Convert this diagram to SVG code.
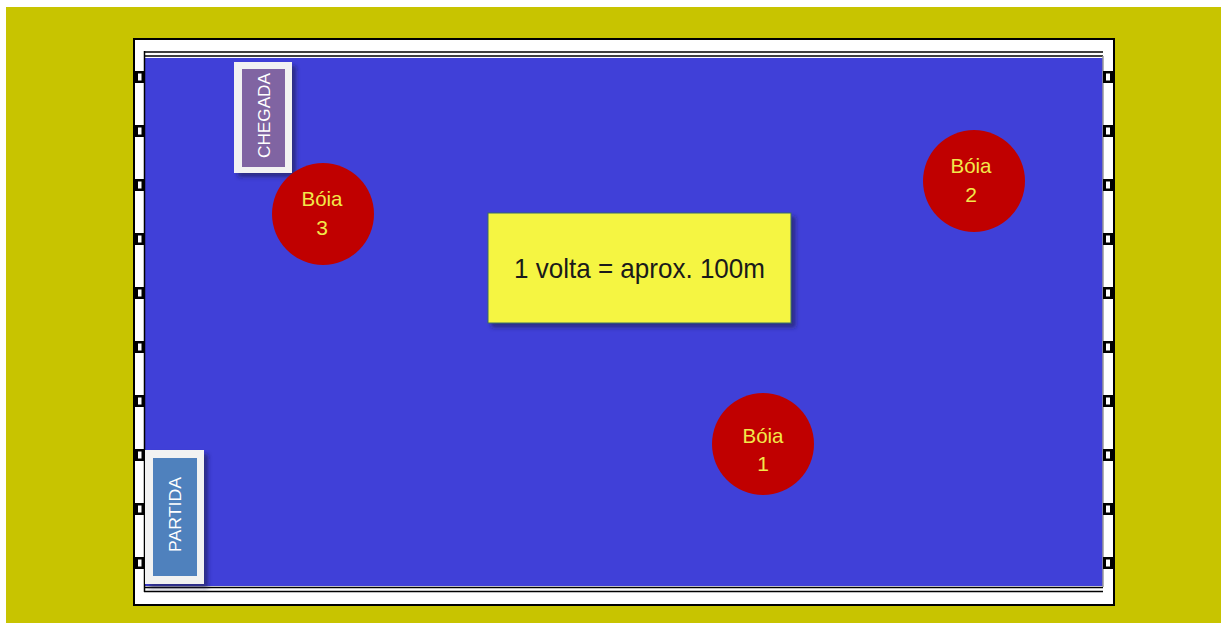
<svg xmlns="http://www.w3.org/2000/svg" xmlns:xlink="http://www.w3.org/1999/xlink" width="1221" height="623" viewBox="0 0 1221 623">
<style>
.buoy{fill:#C00000}
.bt{font-family:"Liberation Sans",Arial,sans-serif;font-size:21px;fill:#F2E84A;text-anchor:middle}
.lbl{font-family:"Liberation Sans",Arial,sans-serif;font-size:16px;fill:#FFFFFF;text-anchor:middle}
.ln{stroke:#000;stroke-width:1.5;fill:none}
</style>
<defs>
<filter id="sh" x="-20%" y="-20%" width="150%" height="150%">
<feDropShadow dx="4" dy="4" stdDeviation="2" flood-color="#1a1a50" flood-opacity="0.6"/>
</filter>
<g id="mkL"><rect x="0" y="0" width="12" height="12" fill="#000"/><rect x="5" y="2.5" width="3.5" height="7" fill="#fff"/></g>
<g id="mkR"><rect x="0" y="0" width="12" height="12" fill="#000"/><rect x="3" y="2.5" width="4" height="7" fill="#fff"/></g>
</defs>
<rect x="0" y="0" width="1221" height="623" fill="#FFFFFF"/>
<rect x="6" y="7" width="1215" height="616" fill="#C8C400"/>
<g id="pool">
<rect x="134" y="39" width="980" height="566" fill="#FFFFFF" stroke="#000" stroke-width="2"/>
<rect x="145" y="58" width="958" height="528" fill="#4040D8"/>
<line class="ln" x1="144" y1="52" x2="1103" y2="52"/>
<line class="ln" x1="144" y1="56" x2="1103" y2="56"/>
<line class="ln" x1="144" y1="587.5" x2="1103" y2="587.5"/>
<line class="ln" x1="144" y1="591.5" x2="1103" y2="591.5"/>
<line class="ln" x1="144.5" y1="51" x2="144.5" y2="592"/>
<line x1="1103" y1="56" x2="1103" y2="587" stroke="#999" stroke-width="1.5"/>
</g>
<g id="markers">
<use xlink:href="#mkL" x="133" y="71"/><use xlink:href="#mkL" x="133" y="125"/><use xlink:href="#mkL" x="133" y="179"/><use xlink:href="#mkL" x="133" y="233"/><use xlink:href="#mkL" x="133" y="287"/><use xlink:href="#mkL" x="133" y="341"/><use xlink:href="#mkL" x="133" y="395"/><use xlink:href="#mkL" x="133" y="449"/><use xlink:href="#mkL" x="133" y="503"/><use xlink:href="#mkL" x="133" y="557"/>
<use xlink:href="#mkR" x="1103" y="71"/><use xlink:href="#mkR" x="1103" y="125"/><use xlink:href="#mkR" x="1103" y="179"/><use xlink:href="#mkR" x="1103" y="233"/><use xlink:href="#mkR" x="1103" y="287"/><use xlink:href="#mkR" x="1103" y="341"/><use xlink:href="#mkR" x="1103" y="395"/><use xlink:href="#mkR" x="1103" y="449"/><use xlink:href="#mkR" x="1103" y="503"/><use xlink:href="#mkR" x="1103" y="557"/>
</g>
<g id="chegada">
<rect x="234" y="62" width="58" height="111" fill="#F2F2F2" filter="url(#sh)"/>
<rect x="242" y="69" width="43" height="98" fill="#8064A2"/>
<text class="lbl" transform="translate(269.5,115.5) rotate(-90)" textLength="85" lengthAdjust="spacingAndGlyphs">CHEGADA</text>
</g>
<g id="partida">
<rect x="145" y="450" width="59" height="134" fill="#F2F2F2" filter="url(#sh)"/>
<rect x="153" y="458" width="44" height="118" fill="#4F81BD"/>
<text class="lbl" transform="translate(180.5,514.5) rotate(-90)" textLength="75" lengthAdjust="spacingAndGlyphs">PARTIDA</text>
</g>
<g id="note">
<rect x="488" y="213" width="303" height="110" fill="#F5F542" stroke="#3a6a6a" stroke-width="1" filter="url(#sh)"/>
<text x="639.5" y="278" font-family="'Liberation Sans',Arial,sans-serif" font-size="28" fill="#1a1a1a" text-anchor="middle" textLength="251" lengthAdjust="spacingAndGlyphs">1 volta = aprox. 100m</text>
</g>
<g id="boia1">
<circle class="buoy" cx="763" cy="444" r="51"/>
<text class="bt" x="763" y="443" textLength="41" lengthAdjust="spacingAndGlyphs">Bóia</text>
<text class="bt" x="763" y="471">1</text>
</g>
<g id="boia2">
<circle class="buoy" cx="974" cy="181" r="51"/>
<text class="bt" x="971" y="173" textLength="41" lengthAdjust="spacingAndGlyphs">Bóia</text>
<text class="bt" x="971" y="202">2</text>
</g>
<g id="boia3">
<circle class="buoy" cx="323" cy="214" r="51"/>
<text class="bt" x="322" y="206" textLength="41" lengthAdjust="spacingAndGlyphs">Bóia</text>
<text class="bt" x="322" y="235">3</text>
</g>
</svg>
